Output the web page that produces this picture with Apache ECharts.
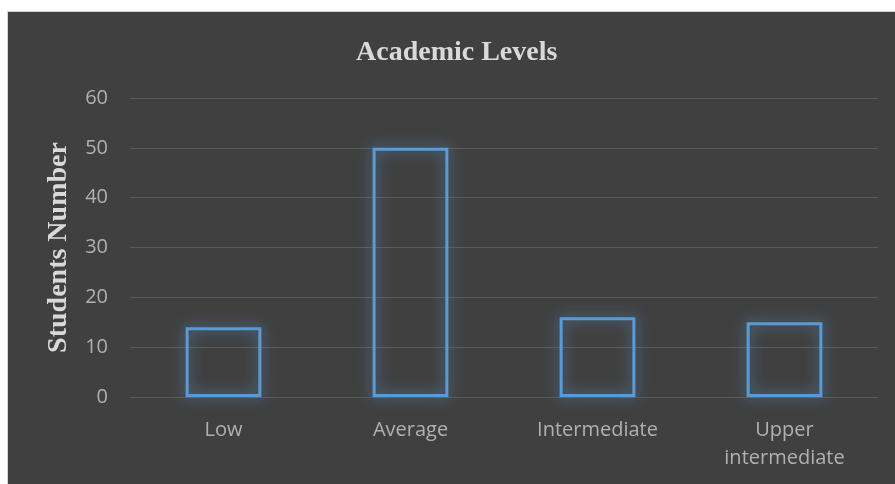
<!DOCTYPE html>
<html>
<head>
<meta charset="utf-8">
<script src="https://cdn.jsdelivr.net/npm/echarts@6/dist/echarts.min.js"></script>
<style>
  html, body { margin: 0; padding: 0; background: #ffffff; }
  #chart {
    position: absolute; left: 7px; top: 11px;
    width: 887px; height: 472px;
    border-left: 1px solid #d4d4d4; border-top: 1px solid #d4d4d4;
    background: #404040;
  }
</style>
</head>
<body>
<div id="chart"></div>
<script>
var categories = ['Low', 'Average', 'Intermediate', 'Upper\nintermediate']
var students = [14, 50, 16, 15]
var yTicks = { min: 0, max: 60, interval: 10 }

var chart = echarts.init(document.getElementById('chart'))
chart.setOption({
  backgroundColor: '#404040',
  animation: false,
  title: {
    text: 'Academic Levels',
    left: 348,
    top: 27,
    padding: 0,
    textStyle: {
      color: '#d9d9d9',
      fontFamily: 'Liberation Serif',
      fontWeight: 'bold',
      fontSize: 28
    }
  },
  grid: {
    left: 122,
    right: 17,
    top: 86,
    bottom: 87
  },
  xAxis: {
    type: 'category',
    data: categories,
    axisLine: { show: false },
    axisTick: { show: false },
    axisLabel: {
      color: '#b0b0b0',
      fontFamily: 'Open Sans',
      fontSize: 20,
      lineHeight: 28,
      margin: 19
    }
  },
  yAxis: {
    type: 'value',
    min: yTicks.min,
    max: yTicks.max,
    interval: yTicks.interval,
    name: 'Students Number',
    nameLocation: 'middle',
    nameGap: 57,
    nameTextStyle: {
      color: '#d9d9d9',
      fontFamily: 'Liberation Serif',
      fontWeight: 'bold',
      fontSize: 28
    },
    axisLine: { show: false },
    axisTick: { show: false },
    axisLabel: {
      color: '#b0b0b0',
      fontFamily: 'Open Sans',
      fontSize: 20,
      margin: 22
    },
    splitLine: {
      lineStyle: { color: '#5a5a5a', width: 1 }
    }
  },
  series: [{
    type: 'bar',
    data: students,
    barWidth: '40.5%',
    itemStyle: {
      color: 'rgba(0,0,0,0)',
      borderColor: '#5b9bd5',
      borderWidth: 3,
      shadowColor: 'rgba(91,155,213,0.9)',
      shadowBlur: 14
    }
  }]
})
</script>
</body>
</html>
